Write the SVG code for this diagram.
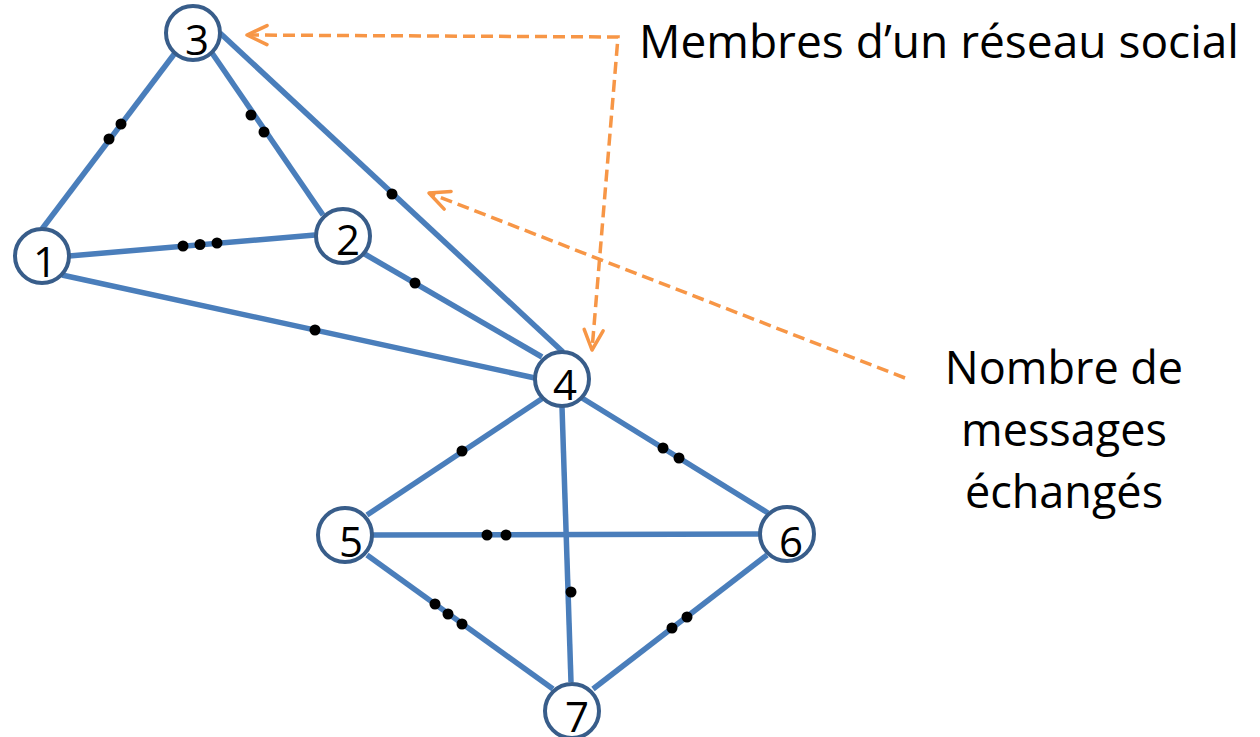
<svg xmlns="http://www.w3.org/2000/svg" width="1260" height="737" viewBox="0 0 1260 737">
<style>
.edge{stroke:#4A7EBB;stroke-width:5.5;fill:none}
.dot{fill:#000}
.node circle{fill:#fff;stroke:#385D8A;stroke-width:4}
.num{font-family:"Open Sans","Liberation Sans",sans-serif;font-size:42px;fill:#000;text-anchor:middle}
.lbl{font-family:"Open Sans","Liberation Sans",sans-serif;font-size:45px;fill:#000}
.ann{stroke:#F79646;stroke-width:3.5;fill:none;stroke-dasharray:12 6}
</style>
<defs>
<marker id="open" markerUnits="userSpaceOnUse" viewBox="-24 -12 28 24" refX="0" refY="0" markerWidth="28" markerHeight="24" orient="auto-start-reverse">
<path d="M-20 -9.5 L0 0 L-20 9.5" fill="none" stroke="#F79646" stroke-width="3.5" stroke-linecap="round" stroke-linejoin="round"/>
</marker>
</defs>
<g id="connectors">
<line class="edge" x1="42" y1="229" x2="175" y2="53"/>
<line class="edge" x1="212" y1="53" x2="323" y2="215"/>
<line class="edge" x1="220" y1="33" x2="563" y2="352"/>
<line class="edge" x1="69" y1="256" x2="315" y2="235"/>
<line class="edge" x1="62" y1="275" x2="535" y2="378"/>
<line class="edge" x1="363" y1="253" x2="542" y2="357"/>
<line class="edge" x1="543" y1="398" x2="367" y2="515"/>
<line class="edge" x1="582" y1="398" x2="768" y2="513"/>
<line class="edge" x1="562" y1="407" x2="571" y2="682"/>
<line class="edge" x1="373" y1="535" x2="759" y2="534"/>
<line class="edge" x1="367" y1="555" x2="553" y2="689"/>
<line class="edge" x1="767" y1="555" x2="593" y2="689"/>
<g id="message-dots">
<circle class="dot" cx="121" cy="124" r="5.5"/>
<circle class="dot" cx="109" cy="139" r="5.5"/>
<circle class="dot" cx="251" cy="115" r="5.5"/>
<circle class="dot" cx="264" cy="132" r="5.5"/>
<circle class="dot" cx="392" cy="194" r="5.5"/>
<circle class="dot" cx="183" cy="246" r="5.5"/>
<circle class="dot" cx="200" cy="244.5" r="5.5"/>
<circle class="dot" cx="217" cy="243" r="5.5"/>
<circle class="dot" cx="315" cy="330" r="5.5"/>
<circle class="dot" cx="415" cy="283" r="5.5"/>
<circle class="dot" cx="462" cy="451" r="5.5"/>
<circle class="dot" cx="663" cy="448" r="5.5"/>
<circle class="dot" cx="679" cy="458" r="5.5"/>
<circle class="dot" cx="571" cy="592" r="5.5"/>
<circle class="dot" cx="487" cy="535" r="5.5"/>
<circle class="dot" cx="506" cy="535" r="5.5"/>
<circle class="dot" cx="435" cy="604" r="5.5"/>
<circle class="dot" cx="448" cy="614" r="5.5"/>
<circle class="dot" cx="462" cy="624" r="5.5"/>
<circle class="dot" cx="672" cy="628" r="5.5"/>
<circle class="dot" cx="687" cy="617" r="5.5"/>
</g>
</g>
<g id="node1" class="node"><circle cx="42" cy="256" r="27"/><text class="num" x="45" y="277">1</text></g>
<g id="node2" class="node"><circle cx="343" cy="236" r="27"/><text class="num" x="348" y="255">2</text></g>
<g id="node3" class="node"><circle cx="193" cy="33" r="27"/><text class="num" x="197" y="55">3</text></g>
<g id="node4" class="node"><circle cx="562" cy="379" r="27"/><text class="num" x="565" y="400">4</text></g>
<g id="node5" class="node"><circle cx="345" cy="535" r="27"/><text class="num" x="351" y="557">5</text></g>
<g id="node6" class="node"><circle cx="787" cy="534" r="27"/><text class="num" x="791" y="557">6</text></g>
<g id="node7" class="node"><circle cx="572" cy="711" r="27"/><text class="num" x="577" y="732">7</text></g>
<g id="annotations">
<path class="ann" d="M247 35 L618 37 L592 350" marker-start="url(#open)" marker-end="url(#open)"/>
<path class="ann" d="M905 378 L429 193" marker-end="url(#open)"/>
<text class="lbl" x="639" y="58" textLength="600" lengthAdjust="spacingAndGlyphs">Membres d’un réseau social</text>
<text class="lbl" x="1064" y="384" text-anchor="middle">Nombre de</text>
<text class="lbl" x="1064" y="446" text-anchor="middle">messages</text>
<text class="lbl" x="1064" y="508" text-anchor="middle">échangés</text>
</g>
</svg>
